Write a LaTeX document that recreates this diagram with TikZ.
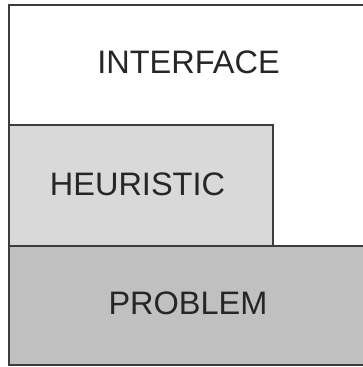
\documentclass[tikz,border=0pt]{standalone}
\usepackage{fontspec}
\setmainfont{Liberation Sans}
\definecolor{edge}{HTML}{3C3C3C}
\definecolor{heurfill}{HTML}{D9D9D9}
\definecolor{probfill}{HTML}{C0C0C0}
\definecolor{txt}{HTML}{262626}
\tikzset{
  layer/.style={draw=edge, line width=2bp, rectangle, anchor=north west, inner sep=0pt, outer sep=0pt},
  label/.style={font=\fontsize{32.5bp}{36bp}\selectfont, text=txt, inner sep=0pt}
}
\begin{document}
\begin{tikzpicture}[x=1bp,y=-1bp]
\useasboundingbox (0,0) rectangle (363,367);
\clip (0,0) rectangle (363,367);
\fill[white] (0,0) rectangle (363,367);
\node[layer, fill=white, minimum width=360bp, minimum height=360.5bp] (interface) at (9,4.5) {};
\node[layer, fill=heurfill, minimum width=264bp, minimum height=120.5bp] (heuristic) at (9,125) {};
\node[layer, fill=probfill, minimum width=360bp, minimum height=119.5bp] (problem) at (9,245.5) {};
\node[label] (tinterface) at (188.5,62) {INTERFACE};
\node[label] (theuristic) at (137.5,184) {HEURISTIC};
\node[label] (tproblem) at (188,303) {PROBLEM};
\end{tikzpicture}
\end{document}
